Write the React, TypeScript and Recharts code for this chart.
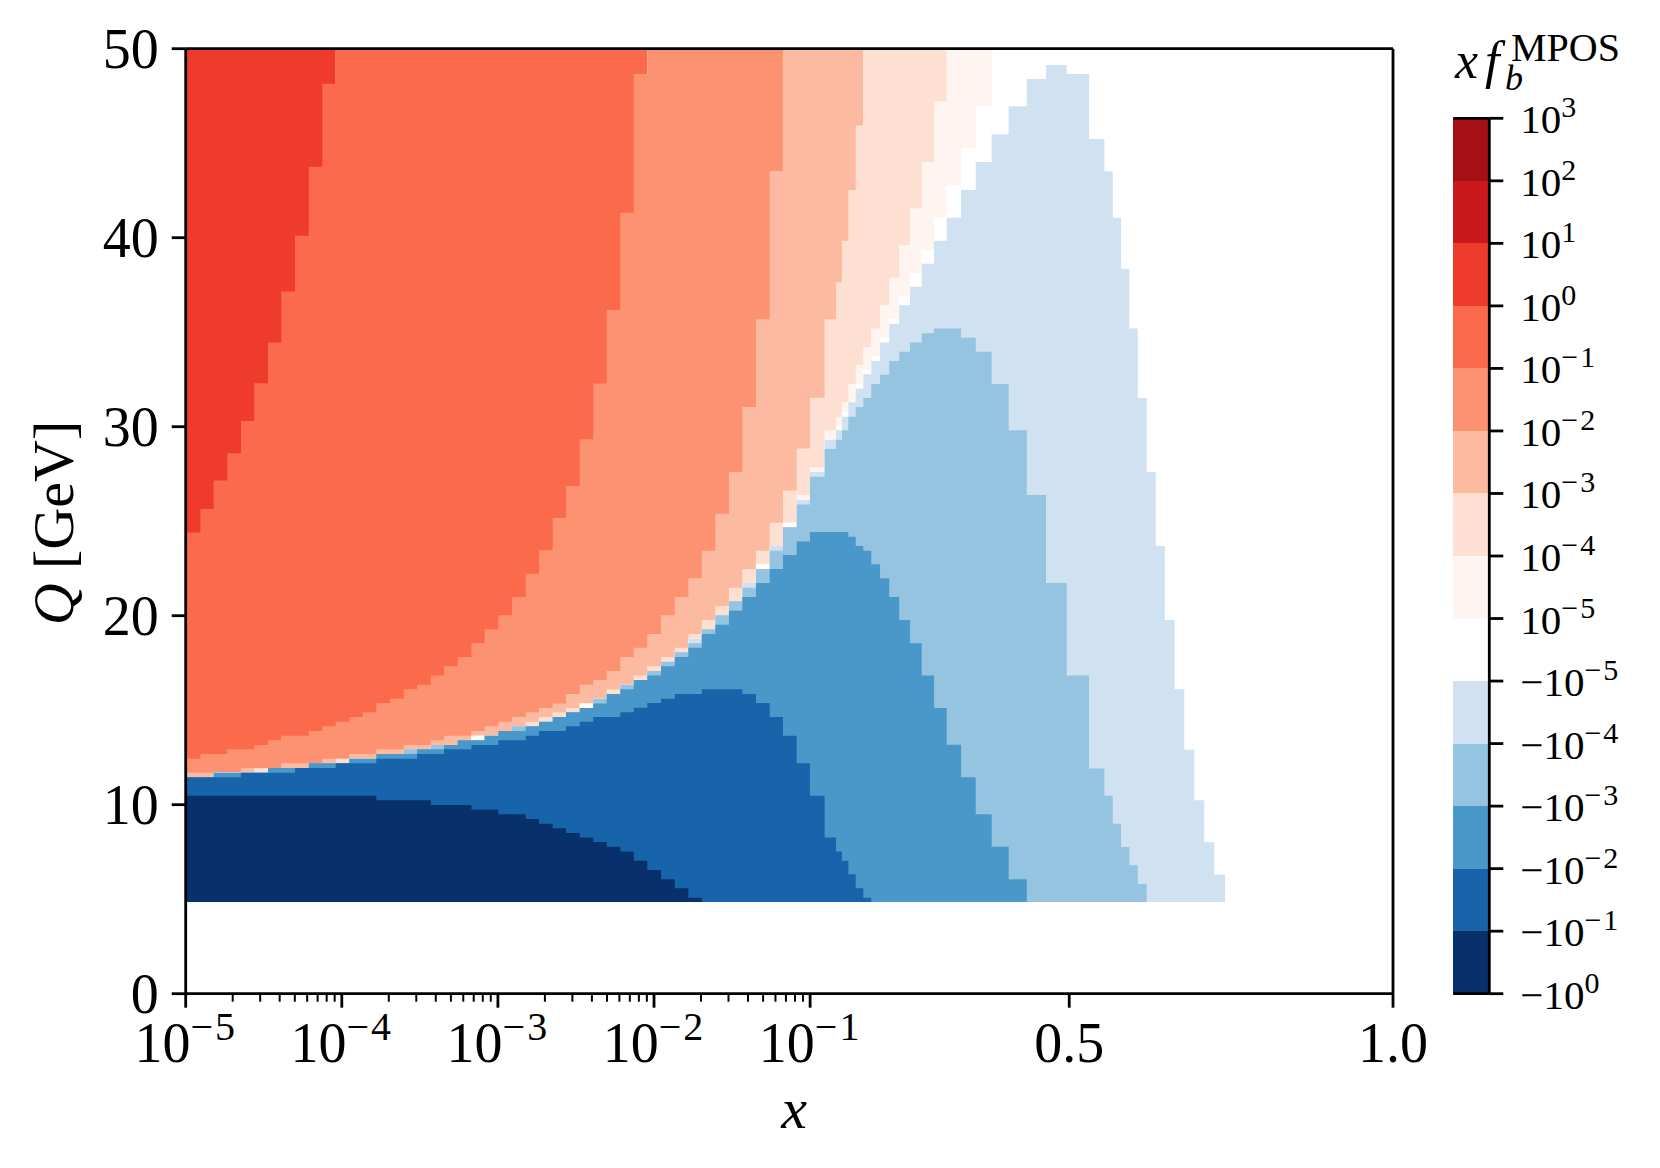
import React from "react";
import {
  AreaChart,
  Area,
  BarChart,
  Bar,
  XAxis,
  YAxis,
  ReferenceLine,
} from "recharts";

// x axis is log below 0.1 and linear above it, so positions are kept in
// "decades from 1e-5": 1e-1 sits at 4, 0.5 at 5.66, 1.0 at the end
const X_END = 7.734;

// left edge of every mesh column (the last one closes the mesh)
const xEdges = [
  0, 0.094, 0.179, 0.266, 0.354, 0.439, 0.527, 0.612, 0.7, 0.788, 0.875, 0.961,
  1.048, 1.134, 1.221, 1.309, 1.397, 1.482, 1.57, 1.655, 1.742, 1.83, 1.915,
  2.003, 2.09, 2.178, 2.263, 2.351, 2.436, 2.524, 2.611, 2.697, 2.784, 2.87,
  2.957, 3.045, 3.133, 3.22, 3.306, 3.393, 3.48, 3.566, 3.653, 3.741, 3.826,
  3.914, 3.999, 4.093, 4.166, 4.204, 4.245, 4.292, 4.341, 4.392, 4.448, 4.507,
  4.571, 4.64, 4.715, 4.794, 4.875, 4.967, 5.061, 5.163, 5.272, 5.388, 5.511,
  5.644, 5.787, 5.885, 5.939, 5.992, 6.045, 6.099, 6.156, 6.214, 6.272, 6.335,
  6.397, 6.461, 6.525, 6.589, 6.658,
];

// upper Q edge of each colour band, column by column (missing = band not there)
const topRed = [50, 50, 50, 50, 50, 50, 50, 50, 50, 50, 50];
const topOrange = [
  24.4, 25.65, 27.15, 28.6, 30.3, 32.3, 34.45, 37.15, 40.1, 43.75, 48.15, 50,
  50, 50, 50, 50, 50, 50, 50, 50, 50, 50, 50, 50, 50, 50, 50, 50, 50, 50, 50,
  50, 50, 50,
];
const topSalmon = [
  12.43, 12.68, 12.68, 12.93, 12.93, 13.16, 13.41, 13.65, 13.65, 13.9, 14.15,
  14.39, 14.64, 14.89, 15.38, 15.61, 16.11, 16.35, 16.83, 17.32, 17.81, 18.55,
  19.28, 20.02, 20.99, 22.22, 23.46, 25.17, 26.86, 29.33, 32.28, 36.17, 41.32,
  48.66, 50, 50, 50, 50, 50, 50, 50, 50, 50, 50,
];
const topLightSalmon = [
  11.69, 11.69, 11.69, 11.69, 11.94, 11.94, 11.94, 12.19, 12.19, 12.19, 12.43,
  12.43, 12.68, 12.68, 12.93, 12.93, 13.16, 13.16, 13.41, 13.65, 13.65, 13.9,
  14.15, 14.39, 14.64, 14.89, 15.12, 15.36, 15.86, 16.35, 16.6, 17.07, 17.81,
  18.31, 19.03, 20.02, 20.99, 21.98, 23.44, 25.4, 27.6, 31.04, 35.68, 43.53, 50,
  50, 50, 50, 50, 50, 50, 50,
];
const topPeach = [
  11.45, 11.45, 11.69, 11.69, 11.69, 11.94, 11.94, 11.94, 11.94, 12.19, 12.19,
  12.43, 12.43, 12.43, 12.68, 12.68, 12.93, 12.93, 13.16, 13.16, 13.41, 13.65,
  13.65, 13.9, 14.15, 14.39, 14.64, 14.89, 15.12, 15.36, 15.61, 16.11, 16.35,
  16.83, 17.32, 17.81, 18.31, 19.03, 19.77, 20.51, 21.48, 22.47, 23.44, 24.92,
  26.63, 28.84, 31.53, 35.68, 37.64, 39.84, 42.52, 45.94, 50, 50, 50, 50, 50,
  50, 50, 50,
];
const topPalest = [
  11.45, 11.45, 11.69, 11.69, 11.69, 11.69, 11.94, 11.94, 11.94, 12.19, 12.19,
  12.19, 12.43, 12.43, 12.68, 12.68, 12.93, 12.93, 13.16, 13.16, 13.41, 13.65,
  13.65, 13.9, 14.15, 14.15, 14.39, 14.64, 14.89, 15.36, 15.61, 15.86, 16.35,
  16.6, 17.07, 17.57, 18.06, 18.78, 19.28, 20.02, 20.76, 21.73, 22.72, 23.69,
  24.92, 26.39, 27.85, 29.81, 30.53, 31.29, 32.26, 33.26, 34.22, 35.19, 36.42,
  37.88, 39.6, 41.55, 44.0, 47.2, 50, 50, 50,
];
const topWhite = [
  11.45, 11.45, 11.69, 11.69, 11.69, 11.69, 11.94, 11.94, 11.94, 12.19, 12.19,
  12.19, 12.43, 12.43, 12.68, 12.68, 12.93, 12.93, 13.16, 13.16, 13.41, 13.65,
  13.65, 13.9, 14.15, 14.15, 14.39, 14.64, 14.89, 15.36, 15.61, 15.86, 16.35,
  16.6, 17.07, 17.57, 18.06, 18.78, 19.28, 20.02, 20.76, 21.73, 22.72, 23.69,
  24.92, 26.14, 27.6, 29.31, 30.04, 30.79, 31.29, 32.26, 33.02, 33.72, 34.71,
  35.7, 36.92, 38.13, 39.35, 41.06, 42.79, 44.75, 46.95,
];
const topPaleBlue = [
  11.45, 11.45, 11.69, 11.69, 11.69, 11.69, 11.94, 11.94, 11.94, 12.19, 12.19,
  12.19, 12.43, 12.43, 12.68, 12.68, 12.93, 12.93, 13.16, 13.16, 13.41, 13.41,
  13.65, 13.9, 14.15, 14.15, 14.39, 14.64, 14.89, 15.12, 15.61, 15.86, 16.35,
  16.6, 17.07, 17.57, 18.06, 18.78, 19.28, 20.02, 20.76, 21.73, 22.47, 23.69,
  24.68, 26.14, 27.6, 29.31, 29.81, 30.53, 31.29, 32.01, 32.77, 33.48, 34.46,
  35.45, 36.42, 37.41, 38.62, 39.84, 41.06, 42.52, 44.0, 45.47, 46.95, 48.4,
  49.14, 48.66, 45.22, 43.51, 41.06, 38.36, 35.19, 31.52, 27.6, 23.69, 19.77,
  16.11, 12.91, 10.23, 8.01, 6.3,
];
const topLightBlue = [
  11.45, 11.45, 11.69, 11.69, 11.69, 11.69, 11.94, 11.94, 11.94, 12.19, 12.19,
  12.19, 12.43, 12.43, 12.68, 12.68, 12.93, 12.93, 13.16, 13.16, 13.41, 13.41,
  13.65, 13.9, 14.15, 14.15, 14.39, 14.64, 14.89, 15.12, 15.61, 15.86, 16.35,
  16.6, 17.07, 17.57, 18.06, 18.54, 19.28, 20.02, 20.76, 21.48, 22.47, 23.44,
  24.68, 25.89, 27.35, 28.82, 29.31, 29.81, 30.53, 31.04, 31.52, 32.26, 32.75,
  33.48, 33.97, 34.46, 34.95, 35.2, 35.2, 34.71, 33.97, 32.26, 29.81, 26.39,
  21.73, 16.83, 11.92, 10.48, 8.99, 7.76, 6.79, 5.8,
];
const topMidBlue = [
  11.45, 11.45, 11.69, 11.69, 11.69, 11.69, 11.94, 11.94, 11.94, 12.19, 12.19,
  12.19, 12.43, 12.43, 12.68, 12.68, 12.68, 12.93, 12.93, 13.16, 13.41, 13.41,
  13.65, 13.9, 13.9, 14.15, 14.39, 14.64, 14.89, 15.12, 15.36, 15.86, 16.11,
  16.6, 16.83, 17.32, 17.81, 18.31, 19.03, 19.52, 20.26, 20.99, 21.73, 22.47,
  23.21, 23.93, 24.43, 24.43, 24.43, 24.43, 24.18, 23.69, 23.44, 22.72, 21.98,
  20.99, 19.77, 18.54, 16.83, 15.12, 13.17, 11.45, 9.49, 7.78, 6.05,
];
const topBlue = [
  11.45, 11.45, 11.45, 11.45, 11.69, 11.69, 11.69, 11.69, 11.94, 11.94, 11.94,
  12.19, 12.19, 12.19, 12.43, 12.43, 12.43, 12.68, 12.68, 12.93, 12.93, 13.16,
  13.16, 13.41, 13.41, 13.65, 13.9, 13.9, 14.15, 14.39, 14.64, 14.64, 14.89,
  15.13, 15.38, 15.61, 15.86, 15.86, 16.11, 16.11, 16.11, 15.86, 15.38, 14.64,
  13.65, 12.19, 10.48, 8.27, 7.53, 7.04, 6.32, 5.58, 5.08,
];
const topNavy = [
  10.48, 10.48, 10.48, 10.48, 10.48, 10.48, 10.48, 10.48, 10.48, 10.48, 10.48,
  10.48, 10.48, 10.48, 10.23, 10.23, 10.23, 10.23, 9.98, 9.98, 9.98, 9.74, 9.74,
  9.49, 9.49, 9.24, 8.99, 8.75, 8.5, 8.27, 8.03, 7.78, 7.53, 7.04, 6.55, 6.05,
  5.58, 5.08,
];
const Q_MIN = 4.85; // mesh starts here, below it the axes are empty

const bands: [string, number[], string][] = [
  ["red", topRed, "#ef3b2c"],
  ["orange", topOrange, "#fb6a4a"],
  ["salmon", topSalmon, "#fc9272"],
  ["lightSalmon", topLightSalmon, "#fcbba1"],
  ["peach", topPeach, "#fee0d2"],
  ["palest", topPalest, "#fff5f0"],
  ["white", topWhite, "#ffffff"],
  ["paleBlue", topPaleBlue, "#d0e1f2"],
  ["lightBlue", topLightBlue, "#94c4df"],
  ["midBlue", topMidBlue, "#4a98c9"],
  ["blue", topBlue, "#1764ab"],
  ["navy", topNavy, "#08306b"],
];

const meshRows = xEdges.map((x, i) => {
  const row: Record<string, number> = { x, floor: i < xEdges.length - 1 ? Q_MIN : 0 };
  bands.forEach(([name, tops]) => {
    row[name] = tops[i] ?? 0;
  });
  return row;
});

const xMajor: Record<string, string[]> = {
  "0": ["10", "−5"],
  "1": ["10", "−4"],
  "2": ["10", "−3"],
  "3": ["10", "−2"],
  "4": ["10", "−1"],
  "5.66": ["0.5"],
  "7.734": ["1.0"],
};
const xMinor = [0, 1, 2, 3].flatMap((d) =>
  [2, 3, 4, 5, 6, 7, 8, 9].map((n) => d + Math.log10(n)),
);
const xTicks = [...Object.keys(xMajor).map(Number), ...xMinor];
const qTicks = [0, 10, 20, 30, 40, 50];

// colour bar, bottom to top
const cbarColors = [
  "#08306b", "#1764ab", "#4a98c9", "#94c4df", "#d0e1f2", "#ffffff", "#fff5f0",
  "#fee0d2", "#fcbba1", "#fc9272", "#fb6a4a", "#ef3b2c", "#cb181d", "#a50f15",
];
const cbarBase = [
  "−10", "−10", "−10", "−10", "−10", "−10", "10", "10", "10", "10", "10", "10", "10", "10", "10",
];
const cbarPower = [
  "0", "−1", "−2", "−3", "−4", "−5", "−5", "−4", "−3", "−2", "−1", "0", "1", "2", "3",
];
const cbarRow: Record<string, string | number> = { name: "cbar" };
cbarColors.forEach((_, i) => {
  cbarRow[`b${i}`] = 1;
});
const cbarTicks = cbarBase.map((_, i) => i);

const SERIF = "'Liberation Serif', serif";
const BLACK = "#000000";

function XTick({ x, y, payload }: any) {
  const label = xMajor[String(payload.value)];
  return (
    <g>
      <line x1={x} x2={x} y1={y} y2={y + (label ? 14 : 8)} stroke={BLACK} strokeWidth={label ? 2.8 : 2} />
      {label && (
        <text x={x} y={y + 68} textAnchor="middle" fontFamily={SERIF} fontSize={56} fill={BLACK}>
          {label[0]}
          {label[1] && (
            <tspan fontSize={40} dy={-22} letterSpacing={2}>
              {label[1]}
            </tspan>
          )}
        </text>
      )}
    </g>
  );
}

function QTick({ x, y, payload }: any) {
  return (
    <g>
      <line x1={x - 14} x2={x} y1={y} y2={y} stroke={BLACK} strokeWidth={2.8} />
      <text x={x - 27} y={y + 19} textAnchor="end" fontFamily={SERIF} fontSize={56} fill={BLACK}>
        {payload.value}
      </text>
    </g>
  );
}

function CbarTick({ x, y, payload }: any) {
  const i = payload.value;
  return (
    <g>
      <line x1={x} x2={x + 14} y1={y} y2={y} stroke={BLACK} strokeWidth={2.8} />
      <text x={x + 31} y={y + 15} fontFamily={SERIF} fontSize={41} fill={BLACK}>
        {cbarBase[i]}
        <tspan fontSize={30} dy={-16} letterSpacing={2}>
          {cbarPower[i]}
        </tspan>
      </text>
    </g>
  );
}

export default function App() {
  return (
    <div style={{ position: "absolute", left: 0, top: 0, width: 1660, height: 1168, background: "#fff" }}>
      <div style={{ position: "absolute", left: 0, top: 0 }}>
        <AreaChart
          width={1660}
          height={1168}
          data={meshRows}
          margin={{ top: 48.7, right: 267, bottom: 0, left: 0 }}
        >
          {bands.map(([name, , color]) => (
            <Area
              key={name}
              dataKey={name}
              type="stepAfter"
              fill={color}
              fillOpacity={1}
              stroke="none"
              dot={false}
              activeDot={false}
              isAnimationActive={false}
            />
          ))}
          <Area
            dataKey="floor"
            type="stepAfter"
            fill="#ffffff"
            fillOpacity={1}
            stroke="none"
            dot={false}
            activeDot={false}
            isAnimationActive={false}
          />
          <XAxis
            dataKey="x"
            type="number"
            domain={[0, X_END]}
            ticks={xTicks}
            interval={0}
            height={174.3}
            tickSize={0}
            tickMargin={0}
            tickLine={false}
            tick={<XTick />}
            axisLine={{ stroke: BLACK, strokeWidth: 2.8 }}
          />
          <YAxis
            type="number"
            domain={[0, 50]}
            ticks={qTicks}
            interval={0}
            width={185.7}
            tickSize={0}
            tickMargin={0}
            tickLine={false}
            tick={<QTick />}
            axisLine={{ stroke: BLACK, strokeWidth: 2.8 }}
          />
          <ReferenceLine y={50} stroke={BLACK} strokeWidth={2.8} />
          <ReferenceLine x={X_END} stroke={BLACK} strokeWidth={2.8} />
        </AreaChart>
      </div>

      <div style={{ position: "absolute", left: 1440, top: 0 }}>
        <BarChart
          width={220}
          height={1168}
          data={[cbarRow]}
          barCategoryGap={0}
          margin={{ top: 118.3, right: 0, bottom: 174.3, left: 13.3 }}
        >
          <XAxis dataKey="name" hide />
          {cbarColors.map((color, i) => (
            <Bar
              key={i}
              yAxisId="right"
              dataKey={`b${i}`}
              stackId="cbar"
              fill={color}
              shapeRendering="crispEdges"
              isAnimationActive={false}
            />
          ))}
          <YAxis
            yAxisId="left"
            orientation="left"
            type="number"
            domain={[0, 14]}
            width={0}
            tick={false}
            tickLine={false}
            axisLine={{ stroke: BLACK, strokeWidth: 2.8 }}
          />
          <YAxis
            yAxisId="right"
            orientation="right"
            type="number"
            domain={[0, 14]}
            ticks={cbarTicks}
            interval={0}
            width={170.7}
            tickSize={0}
            tickMargin={0}
            tickLine={false}
            tick={<CbarTick />}
            axisLine={{ stroke: BLACK, strokeWidth: 2.8 }}
          />
          <ReferenceLine yAxisId="right" y={14} stroke={BLACK} strokeWidth={2.8} />
          <ReferenceLine yAxisId="right" y={0} stroke={BLACK} strokeWidth={2.8} />
        </BarChart>
      </div>

      {/* axis titles */}
      <svg width={1660} height={1168} style={{ position: "absolute", left: 0, top: 0, pointerEvents: "none" }}>
        <text x={794} y={1128} textAnchor="middle" fontFamily={SERIF} fontSize={58} fontStyle="italic" fill={BLACK}>
          x
        </text>
        <text
          transform="translate(73 523) rotate(-90)"
          textAnchor="middle"
          fontFamily={SERIF}
          fontSize={58}
          fill={BLACK}
        >
          <tspan fontStyle="italic">Q</tspan> [GeV]
        </text>
        <text fontFamily={SERIF} fill={BLACK}>
          <tspan x={1455} y={78} fontSize={52} fontStyle="italic">
            x
          </tspan>
          <tspan x={1485} y={78} fontSize={52} fontStyle="italic">
            f
          </tspan>
          <tspan x={1505} y={90} fontSize={36} fontStyle="italic">
            b
          </tspan>
          <tspan x={1511} y={61} fontSize={40}>
            MPOS
          </tspan>
        </text>
      </svg>
    </div>
  );
}
